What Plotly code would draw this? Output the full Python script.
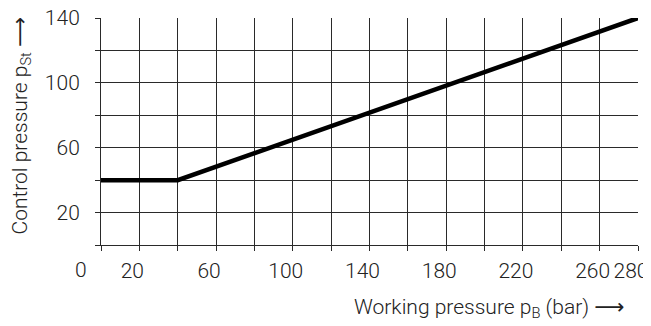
import plotly.graph_objects as go

# Data
working_pressure = [0, 40, 280]
control_pressure = [40, 40, 140]

x_tickvals = [0, 20, 40, 60, 80, 100, 120, 140, 160, 180, 200, 220, 240, 260, 280]
x_ticktext = ["", "20", "", "60", "", "100", "", "140", "", "180", "", "220", "", "260", "280"]
y_tickvals = [0, 20, 40, 60, 80, 100, 120, 140]
y_ticktext = ["", "20", "", "60", "", "100", "", "140"]
origin_label = "0"

FONT = "Roboto"
FS = 21
TXT = "#222222"
GRID = "#2a2a2a"
ARROW = '<span style="font-family:DejaVu Sans;font-weight:normal">\u27f6</span>'

fig = go.Figure()
fig.add_trace(go.Scatter(
    x=working_pressure, y=control_pressure, mode="lines",
    line=dict(color="black", width=4.5), hoverinfo="skip", showlegend=False,
))

# page body has an 8px default margin, so the figure is sized to fit the window
fig.update_layout(
    width=643, height=318,
    margin=dict(l=93, r=13, t=10, b=81, autoexpand=False),
    paper_bgcolor="white", plot_bgcolor="white",
    font=dict(family=FONT, size=FS, color=TXT, weight=300),
    showlegend=False,
)
common = dict(
    tickmode="array", showgrid=True, gridcolor=GRID, gridwidth=1,
    showline=True, linecolor=GRID, linewidth=1,
    ticks="outside", ticklen=5, tickcolor=GRID, tickwidth=1,
    zeroline=False, fixedrange=True, automargin=False,
    ticklabeloverflow="allow",
)
fig.update_xaxes(range=[0, 280], tickvals=x_tickvals, ticktext=x_ticktext,
                 ticklabelshift=-7, ticklabelstandoff=2, **common)
fig.update_yaxes(range=[0, 140], tickvals=y_tickvals, ticktext=y_ticktext,
                 ticklabelstandoff=11, **common)

fig.add_annotation(
    x=0, y=0, xref="x", yref="y", text=origin_label, showarrow=False,
    xanchor="center", yanchor="top", xshift=-20, yshift=-11,
    font=dict(family=FONT, size=FS, color=TXT, weight=300),
)
fig.add_annotation(
    x=1.0, y=0, xref="paper", yref="paper", xanchor="right", yanchor="top",
    xshift=-12, yshift=-48,
    text="Working pressure p<sub>B</sub> (bar) " + ARROW, showarrow=False,
    font=dict(family=FONT, size=FS, color=TXT, weight=300),
)
fig.add_annotation(
    x=0, y=0.5, xref="paper", yref="paper", xanchor="center", yanchor="middle",
    xshift=-80, yshift=6, textangle=-90,
    text="Control pressure p<sub>St</sub> " + ARROW, showarrow=False,
    font=dict(family=FONT, size=FS, color=TXT, weight=300),
)

fig.write_html("out.html")
